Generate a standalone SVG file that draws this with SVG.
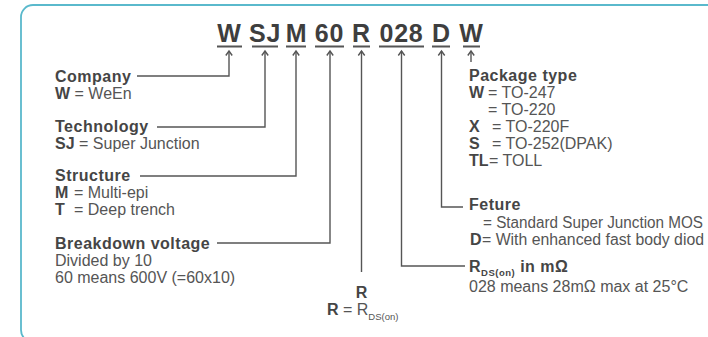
<svg xmlns="http://www.w3.org/2000/svg" width="708" height="337" viewBox="0 0 708 337">
<defs>
<style>
text{font-family:"Liberation Sans",Arial,sans-serif;font-size:16px;fill:#555}
.b{font-weight:bold;fill:#454545}
.t{font-weight:bold;fill:#454545;letter-spacing:0.5px}
.code{font-weight:bold;font-size:25px;fill:#3e3e3e;text-anchor:middle;letter-spacing:0.8px}
.ul{stroke:#555;stroke-width:2}
.c{fill:none;stroke:#555;stroke-width:1.4}
.sub{font-size:9.5px}
</style>
<marker id="ah" markerUnits="userSpaceOnUse" markerWidth="10" markerHeight="10" viewBox="-6 -5 10 10" refX="0" refY="0" orient="auto" overflow="visible">
<path d="M-4.5,-3.2 L0,0 L-4.5,3.2" fill="none" stroke="#555" stroke-width="1.4"/>
</marker>
</defs>
<rect x="21" y="5" width="820" height="337" rx="12" ry="12" fill="#fff" stroke="#5ab9cc" stroke-width="1.8"/>
<g id="node-code">
<text class="code" x="229.5" y="41.5">W</text>
<text class="code" x="265" y="41.5">SJ</text>
<text class="code" x="296.5" y="41.5">M</text>
<text class="code" x="329.5" y="41.5">60</text>
<text class="code" x="361.5" y="41.5">R</text>
<text class="code" x="401.5" y="41.5">028</text>
<text class="code" x="441.5" y="41.5">D</text>
<text class="code" x="471.5" y="41.5">W</text>
<path class="ul" d="M217,46.5H242M252,46.5H278M286,46.5H306M315,46.5H344M353,46.5H370M379,46.5H424M432,46.5H450M463,46.5H480"/>
</g>
<g id="connectors">
<path class="c" marker-end="url(#ah)" d="M137,76H229V51"/>
<path class="c" marker-end="url(#ah)" d="M157,127H265V51"/>
<path class="c" marker-end="url(#ah)" d="M140,176H296V51"/>
<path class="c" marker-end="url(#ah)" d="M217,243H330V51"/>
<path class="c" marker-end="url(#ah)" d="M361.5,272V51"/>
<path class="c" marker-end="url(#ah)" d="M465,266H401.5V51"/>
<path class="c" marker-end="url(#ah)" d="M463,207H441.5V51"/>
<path class="c" marker-end="url(#ah)" d="M471,62V51"/>
</g>
<g id="node-company">
<text class="t" x="55" y="82">Company</text>
<text x="55" y="99"><tspan class="b">W</tspan> = WeEn</text>
</g>
<g id="node-technology">
<text class="t" x="55" y="132">Technology</text>
<text x="55" y="149"><tspan class="b">SJ</tspan> = Super Junction</text>
</g>
<g id="node-structure">
<text class="t" x="55" y="181">Structure</text>
<text x="55" y="198"><tspan class="b">M</tspan><tspan x="74">= Multi-epi</tspan></text>
<text x="55" y="215"><tspan class="b">T</tspan><tspan x="74">= Deep trench</tspan></text>
</g>
<g id="node-breakdown">
<text class="t" x="55" y="249">Breakdown voltage</text>
<text x="55" y="266">Divided by 10</text>
<text x="55" y="283">60 means 600V (=60x10)</text>
</g>
<g id="node-r">
<text class="b" x="361.5" y="298" text-anchor="middle">R</text>
<text x="327" y="315"><tspan class="b">R</tspan> = R<tspan class="sub" dy="5">DS(on)</tspan></text>
</g>
<g id="node-rdson">
<text class="t" x="469" y="272">R<tspan class="sub" font-size="10" dy="4">DS(on)</tspan><tspan dy="-4"> in mΩ</tspan></text>
<text x="469" y="292">028 means 28mΩ max at 25°C</text>
</g>
<g id="node-feature">
<text class="t" x="469" y="210">Feture</text>
<text x="483" y="228" textLength="220" lengthAdjust="spacingAndGlyphs">= Standard Super Junction MOS</text>
<text class="b" x="470" y="245">D</text>
<text x="482" y="245" textLength="222" lengthAdjust="spacingAndGlyphs">= With enhanced fast body diod</text>
</g>
<g id="node-package">
<text class="t" x="469" y="81">Package type</text>
<text x="469" y="98"><tspan class="b">W</tspan><tspan x="488">= TO-247</tspan></text>
<text x="488" y="115">= TO-220</text>
<text x="469" y="132"><tspan class="b">X</tspan><tspan x="492">= TO-220F</tspan></text>
<text x="469" y="149"><tspan class="b">S</tspan><tspan x="492">= TO-252(DPAK)</tspan></text>
<text x="469" y="166"><tspan class="b">TL</tspan><tspan x="489">= TOLL</tspan></text>
</g>
</svg>
